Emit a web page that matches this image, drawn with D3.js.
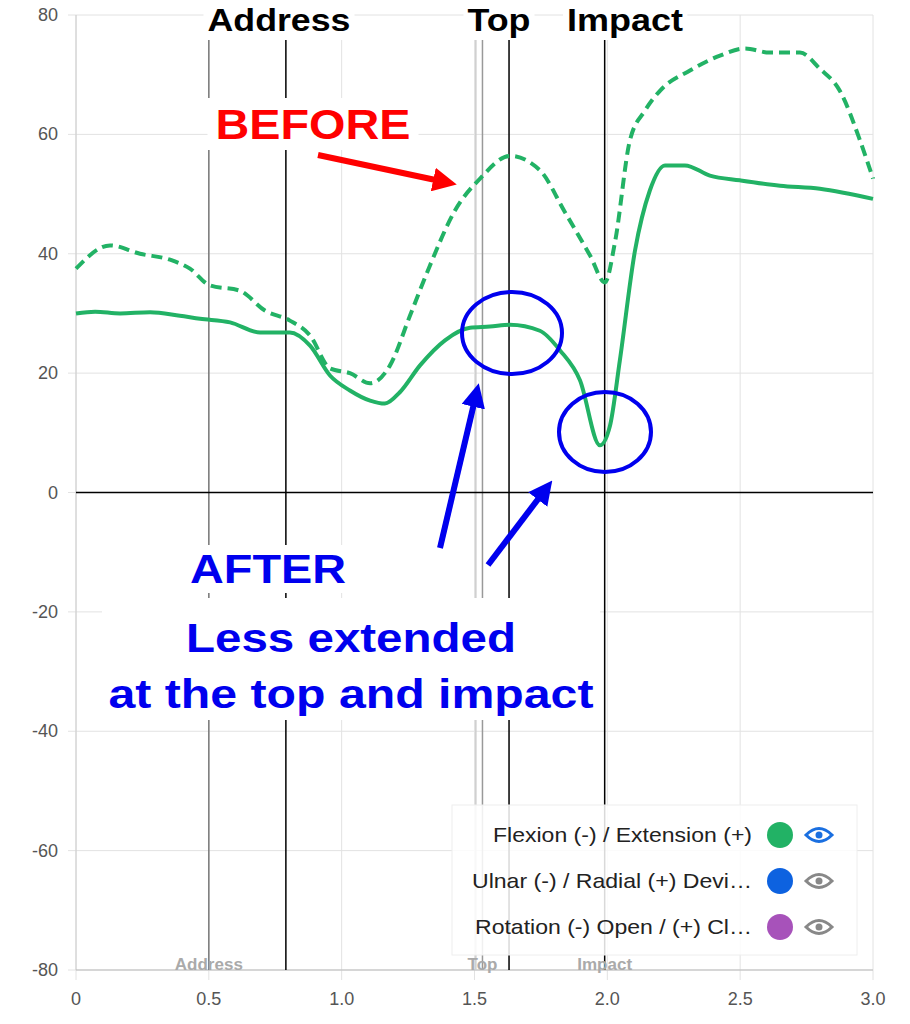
<!DOCTYPE html><html><head><meta charset="utf-8">
<script src="https://cdn.jsdelivr.net/npm/d3@7"></script>
<style>body{margin:0;background:#fff;font-family:"Helvetica Neue",Arial,"Liberation Sans",sans-serif}</style></head><body>
<svg id="c" width="910" height="1024"></svg>
<script>
const xTicks=[0,0.5,1.0,1.5,2.0,2.5,3.0];
const xTickLabels=["0","0.5","1.0","1.5","2.0","2.5","3.0"];
const yTicks=[-80,-60,-40,-20,0,20,40,60,80];
const beforeX=[0,.128,.241,.354,.429,.504,.617,.711,.805,.881,.956,1.031,1.107,1.182,1.257,1.332,1.426,1.521,1.633,1.746,1.840,1.935,1.991,2.029,2.085,2.142,2.198,2.311,2.424,2.518,2.612,2.725,2.800,2.875,2.951,3.0];
const beforeY=[37.5,41.4,40,39,37.5,34.7,33.8,30.5,28.8,26.3,20.8,20,18.3,21.3,29.6,38,47.2,52.6,56.4,54,47,39.7,35.2,42,59,64,67.3,70.7,73.2,74.4,73.7,73.7,71,67.3,59,52.6];
const afterX=[0,.072,.166,.279,.391,.467,.580,.693,.805,.881,.956,1.031,1.107,1.163,1.219,1.295,1.389,1.483,1.558,1.633,1.746,1.822,1.897,1.972,2.010,2.047,2.104,2.160,2.217,2.292,2.386,2.499,2.650,2.800,3.0];
const afterY=[30,30.3,30,30.2,29.6,29.1,28.5,26.8,26.8,24.6,19.6,17.1,15.4,14.9,16.8,21.3,25.5,27.6,27.8,28.1,27.1,23.8,18.8,7.9,11.2,22.1,40.5,50.6,54.8,54.8,53.1,52.3,51.4,50.9,49.2];
const eventLines=[{x:0.5,c:"#777"},{x:0.79,c:"#000"},{x:1.505,c:"#ccc"},{x:1.53,c:"#999"},{x:1.63,c:"#000"},{x:1.99,c:"#000"}];
const eventLabels=[{x:0.5,t:"Address"},{x:1.53,t:"Top"},{x:1.99,t:"Impact"}];
const legendItems=[{t:"Flexion (-) / Extension (+)",c:"#22b265",e:"#1a6fe0",w:259},{t:"Ulnar (-) / Radial (+) Devi…",c:"#0d62e0",e:"#888",w:280},{t:"Rotation (-) Open / (+) Cl…",c:"#a752ba",e:"#888",w:277}];
const green="#22b265";
const svg=d3.select("#c");
const x=d3.scaleLinear().domain([0,3]).range([76,873]);
const y=d3.scaleLinear().domain([-80,80]).range([970,15]);
const g=svg.append("g");
g.selectAll(".gx").data(xTicks).join("line").attr("x1",d=>x(d)).attr("x2",d=>x(d)).attr("y1",15).attr("y2",980).attr("stroke","#e2e2e2");
g.selectAll(".gy").data(yTicks).join("line").attr("x1",68).attr("x2",873).attr("y1",d=>y(d)).attr("y2",d=>y(d)).attr("stroke","#e2e2e2");
g.append("line").attr("x1",x(0)).attr("x2",x(0)).attr("y1",15).attr("y2",970).attr("stroke","#ccc");
g.append("line").attr("x1",76).attr("x2",873).attr("y1",y(-80)).attr("y2",y(-80)).attr("stroke","#bbb");
g.selectAll(".yl").data(yTicks).join("text").attr("x",58).attr("y",d=>y(d)+6).attr("text-anchor","end").attr("font-size",18).attr("fill","#555").text(d=>d);
g.selectAll(".xl").data(xTicks).join("text").attr("x",d=>x(d)).attr("y",1005).attr("text-anchor","middle").attr("font-size",18).attr("fill","#555").text((d,i)=>xTickLabels[i]);
g.selectAll(".ev").data(eventLines).join("line").attr("x1",d=>x(d.x)).attr("x2",d=>x(d.x)).attr("y1",15).attr("y2",970).attr("stroke",d=>d.c).attr("stroke-width",1.5);
g.append("line").attr("x1",76).attr("x2",873).attr("y1",y(0)).attr("y2",y(0)).attr("stroke","#000").attr("stroke-width",1.5);
g.selectAll(".bl").data(eventLabels).join("text").attr("x",d=>x(d.x)).attr("y",970).attr("text-anchor","middle").attr("font-size",17).attr("font-weight","bold").attr("fill","#aaa").text(d=>d.t);
const line=d3.line().x(d=>x(d[0])).y(d=>y(d[1])).curve(d3.curveMonotoneX);
g.append("path").attr("d",line(beforeX.map((v,i)=>[v,beforeY[i]]))).attr("fill","none").attr("stroke",green).attr("stroke-width",4).attr("stroke-dasharray","11,6");
g.append("path").attr("d",line(afterX.map((v,i)=>[v,afterY[i]]))).attr("fill","none").attr("stroke",green).attr("stroke-width",4);
const lg=svg.append("g");
lg.append("rect").attr("x",452).attr("y",805).attr("width",405).attr("height",150).attr("fill","rgba(255,255,255,0.85)").attr("stroke","#eee");
legendItems.forEach((d,i)=>{const yy=835+i*46;
 lg.append("text").attr("x",752).attr("y",yy+7).attr("text-anchor","end").attr("font-size",21).attr("fill","#222").attr("textLength",d.w).attr("lengthAdjust","spacingAndGlyphs").text(d.t);
 lg.append("circle").attr("cx",780).attr("cy",yy).attr("r",13).attr("fill",d.c);
 lg.append("path").attr("d",`M${806},${yy} Q${819},${yy-13} ${832},${yy} Q${819},${yy+13} ${806},${yy}Z`).attr("fill","none").attr("stroke",d.e).attr("stroke-width",3);
 lg.append("circle").attr("cx",819).attr("cy",yy).attr("r",3.5).attr("fill",d.e);
});
const an=svg.append("g");
function label(t,cx,cy,size,col,pad,w){const tx=an.append("text").attr("x",cx).attr("y",cy).attr("text-anchor","middle").attr("font-size",size).attr("font-weight","bold").attr("fill",col).attr("textLength",w).attr("lengthAdjust","spacingAndGlyphs").text(t);const b=tx.node().getBBox();an.insert("rect","text").attr("x",b.x-pad).attr("y",b.y-2).attr("width",b.width+2*pad).attr("height",b.height+4).attr("fill","#fff");}
label("Address",279,31,32,"#000",4,143);label("Top",499,31,32,"#000",4,63);label("Impact",625,31,32,"#000",4,116);
label("BEFORE",313,139,43,"#f00",8,195);
an.append("rect").attr("x",102).attr("y",598).attr("width",498).attr("height",122).attr("fill","#fff");
an.append("text").attr("x",351).attr("y",652).attr("text-anchor","middle").attr("font-size",40).attr("font-weight","bold").attr("fill","#0000ee").attr("textLength",330).attr("lengthAdjust","spacingAndGlyphs").text("Less extended");
an.append("text").attr("x",351).attr("y",708).attr("text-anchor","middle").attr("font-size",40).attr("font-weight","bold").attr("fill","#0000ee").attr("textLength",485).attr("lengthAdjust","spacingAndGlyphs").text("at the top and impact");
label("AFTER",268,583,40,"#0000ee",6,156);
svg.append("defs").html('<marker id="ab" viewBox="0 0 10 10" refX="5" refY="5" markerWidth="4" markerHeight="4" orient="auto"><path d="M0,0L10,5L0,10z" fill="#0000ee"/></marker><marker id="ar2" viewBox="0 0 10 10" refX="5" refY="5" markerWidth="4" markerHeight="4" orient="auto"><path d="M0,0L10,5L0,10z" fill="#f00"/></marker>');
an.append("line").attr("x1",318).attr("y1",155).attr("x2",445).attr("y2",182).attr("stroke","#f00").attr("stroke-width",6).attr("marker-end","url(#ar2)");
an.append("line").attr("x1",440).attr("y1",548).attr("x2",476).attr("y2",395).attr("stroke","#0000ee").attr("stroke-width",6).attr("marker-end","url(#ab)");
an.append("line").attr("x1",488).attr("y1",565).attr("x2",545).attr("y2",490).attr("stroke","#0000ee").attr("stroke-width",6).attr("marker-end","url(#ab)");
an.append("ellipse").attr("cx",512).attr("cy",333).attr("rx",50).attr("ry",41).attr("fill","none").attr("stroke","#0000ee").attr("stroke-width",4);
an.append("ellipse").attr("cx",605).attr("cy",432).attr("rx",46).attr("ry",40).attr("fill","none").attr("stroke","#0000ee").attr("stroke-width",4);
</script></body></html>
